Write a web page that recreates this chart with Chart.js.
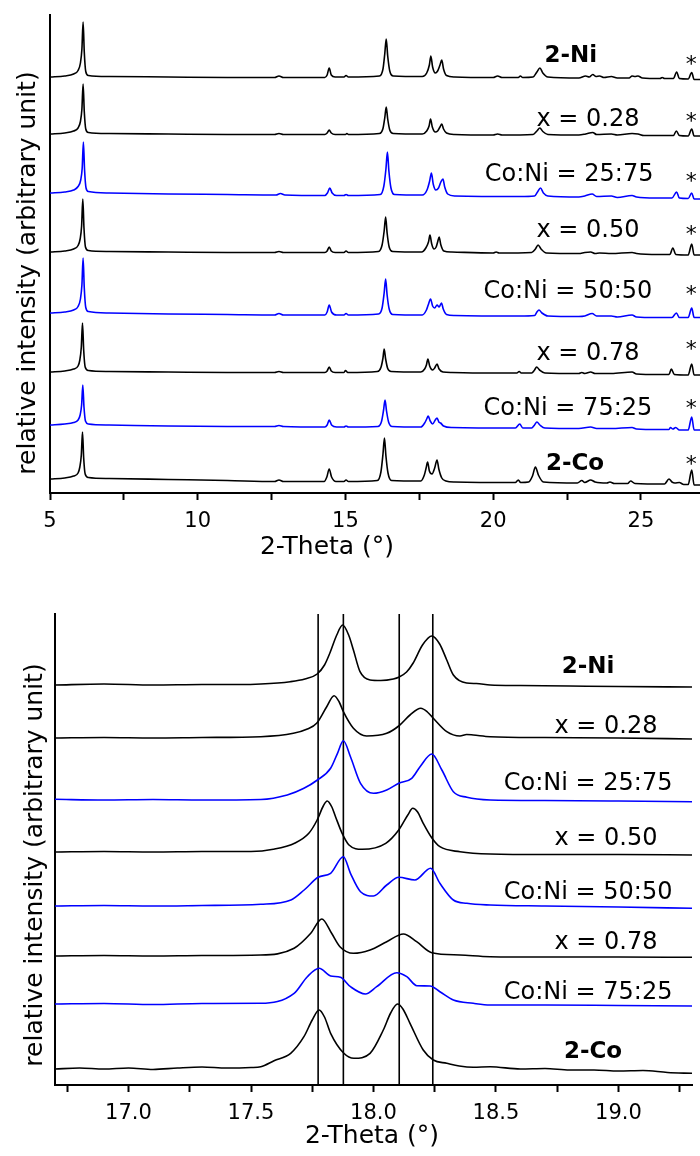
<!DOCTYPE html>
<html>
<head>
<meta charset="utf-8">
<script src="https://cdn.jsdelivr.net/npm/chart.js@4.4.0/dist/chart.umd.min.js"></script>
<style>
  html, body { margin: 0; padding: 0; background: #fff; }
  #wrap { position: relative; width: 700px; height: 1156px; }
  #topBox { position: absolute; left: 0; top: 0; width: 700px; height: 560px; }
  #botBox { position: absolute; left: 0; top: 560px; width: 700px; height: 596px; }
</style>
</head>
<body>
<div id="wrap">
  <div id="topBox"><canvas id="topChart" width="700" height="560"></canvas></div>
  <div id="botBox"><canvas id="botChart" width="700" height="596"></canvas></div>
</div>
<script>
// sample names, top to bottom
const seriesNames = ["2-Ni", "x = 0.28", "Co:Ni = 25:75", "x = 0.50", "Co:Ni = 50:50", "x = 0.78", "Co:Ni = 75:25", "2-Co"];
const seriesBold = [true, false, false, false, false, false, false, true];
const seriesBlue = [false, false, true, false, true, false, true, false];

// top panel: x ticks
const topTicks = [5, 7.5, 10, 12.5, 15, 17.5, 20, 22.5, 25];
const topLabeled = [5, 10, 15, 20, 25];

// top panel: vertical offset of each pattern (arbitrary units)
const topOffsets = [416, 359, 300, 241, 180, 121, 68, 14];

// top panel: [2-theta, intensity above own baseline]
const topNi = [[5.0,0],[5.5,1],[5.8,3],[5.95,6.5],[6.03,14],[6.08,28],[6.12,55],[6.16,25],[6.21,5.5],[6.3,1.5],[7.0,0.5],[9.0,0],[11.0,-0.5],[12.6,-0.5],[12.75,1],[12.9,-0.5],[14.3,-0.5],[14.38,2],[14.45,9],[14.52,2],[14.65,0],[14.95,0],[15.02,1.5],[15.1,0],[16.15,1],[16.27,8],[16.33,23],[16.38,38],[16.43,21],[16.5,6],[16.62,1],[17.6,0.5],[17.75,4],[17.84,12],[17.89,21],[17.95,10],[18.04,4],[18.12,6],[18.2,12],[18.26,17],[18.32,8],[18.42,1.5],[18.7,0],[20.0,-0.5],[20.15,1],[20.3,-0.5],[20.85,-0.5],[20.92,1],[21.0,-0.5],[21.35,0],[21.48,5],[21.58,9],[21.68,4],[21.85,0],[22.9,-1],[23.13,1],[23.25,0],[23.37,2.5],[23.48,0.5],[23.6,1],[23.75,-0.5],[24.0,0.5],[24.2,-1],[24.6,-1],[24.7,1],[24.8,0.5],[24.9,1],[25.05,-1],[25.65,-1.5],[25.72,-0.5],[25.8,-1.5],[26.1,-1.5],[26.21,5],[26.3,-1.5],[26.6,-2],[26.72,4.5],[26.8,-2.5],[27,-2.5]];
const topX28 = [[5.0,0],[5.5,1],[5.8,3],[5.95,6],[6.03,12.5],[6.08,25],[6.12,50],[6.16,22.5],[6.21,5],[6.3,1.5],[7.0,0.5],[9,0],[11,-0.5],[12.6,-0.5],[12.75,0.5],[12.9,-0.5],[14.3,-0.5],[14.38,1],[14.45,4],[14.52,1],[14.65,-0.5],[15.0,-0.5],[15.05,0.5],[15.1,-0.5],[16.15,0.5],[16.27,5.5],[16.33,16],[16.38,27],[16.43,15],[16.5,4],[16.62,0.5],[17.6,0],[17.75,3],[17.83,8],[17.88,15],[17.94,7],[18.04,2],[18.12,3],[18.2,7],[18.26,10],[18.32,5],[18.42,1],[18.7,-0.5],[20.0,-1],[20.15,0],[20.3,-1],[21.35,-0.5],[21.48,3],[21.58,6],[21.68,2.5],[21.85,-0.5],[22.9,-1],[23.13,0],[23.37,1.5],[23.5,-0.5],[24.0,0],[24.2,-1],[24.7,0.5],[24.9,0],[25.1,-1.5],[25.8,-1.5],[26.1,-1.5],[26.2,3],[26.3,-1.5],[26.6,-2],[26.72,5],[26.8,-2],[27,-2]];
const topB25 = [[5.0,0],[5.5,1],[5.8,3],[5.95,6.5],[6.04,13],[6.09,25],[6.13,51],[6.17,23],[6.22,5],[6.3,1.5],[7,0],[9,-1],[11,-1.5],[12.65,-2],[12.8,-0.5],[12.95,-2],[14.3,-2.5],[14.39,0],[14.47,5],[14.55,0],[14.7,-2.5],[14.95,-2.5],[15.02,-1.5],[15.1,-2.5],[16.18,-1.5],[16.3,7],[16.37,24],[16.42,41],[16.47,22],[16.54,5],[16.66,-1.5],[17.6,-2],[17.76,3],[17.85,12],[17.91,20],[17.97,9],[18.06,3],[18.15,5],[18.23,11],[18.3,14],[18.36,6],[18.46,-1],[18.7,-3],[20.9,-3.5],[21.4,-3],[21.5,1],[21.6,5],[21.7,0],[21.85,-3],[22.9,-4],[23.1,-3],[23.35,-1],[23.5,-3.5],[24.0,-3],[24.2,-4.5],[24.7,-2.5],[24.85,-4],[25.5,-5],[26.05,-5],[26.21,1],[26.3,-5],[26.6,-5.5],[26.72,0],[26.8,-6],[27,-6]];
const topX50 = [[5.0,0],[5.5,1],[5.8,3],[5.95,6.5],[6.02,13],[6.07,26],[6.11,53],[6.15,24],[6.2,5],[6.3,1.5],[7,0.5],[9,0],[11,-0.5],[12.6,-0.5],[12.75,0.5],[12.9,-0.5],[14.3,-0.5],[14.38,1],[14.45,5],[14.52,1],[14.65,-0.5],[14.95,-0.5],[15.02,1],[15.1,-0.5],[16.12,0.5],[16.24,7],[16.31,21],[16.36,35],[16.41,19],[16.48,5],[16.6,0.5],[17.58,0],[17.72,4],[17.81,10],[17.86,17],[17.92,8],[18.0,3],[18.07,5],[18.12,10],[18.17,15],[18.23,7],[18.33,1],[18.6,0],[20.0,-1],[20.1,0],[20.2,-1],[21.3,-0.5],[21.43,3],[21.52,7],[21.62,3],[21.8,-1],[22.9,-1.5],[23.1,-0.5],[23.3,0],[23.45,-1.5],[23.6,-1],[24.0,-1.5],[24.7,-0.5],[24.85,-1.5],[25.6,-2.5],[25.98,-2.5],[26.08,4],[26.18,-2.5],[26.6,-3],[26.72,8],[26.8,-3],[27,-3]];
const topB50 = [[5.0,0],[5.5,1],[5.8,3],[5.95,6.5],[6.03,14],[6.08,28],[6.12,55],[6.16,25],[6.21,5.5],[6.3,1.5],[7,0],[9,-1],[11,-1.5],[12.6,-2],[12.75,-0.5],[12.9,-2],[14.3,-2],[14.38,1],[14.45,8],[14.53,1],[14.7,-2],[14.95,-2],[15.02,-0.5],[15.1,-2],[16.12,-1],[16.24,5],[16.31,20],[16.36,34],[16.41,18],[16.48,4],[16.6,-1.5],[17.6,-2],[17.74,3],[17.8,8],[17.88,14],[17.95,7],[18.02,5],[18.1,8],[18.17,6],[18.25,10],[18.31,4],[18.42,-1.5],[18.7,-2.5],[20.9,-3],[21.4,-2.5],[21.48,1],[21.55,3],[21.65,0],[21.85,-3],[22.9,-3.5],[23.1,-3],[23.35,-0.5],[23.5,-3],[24.0,-3],[24.2,-4],[24.7,-2],[24.85,-4],[25.5,-4.5],[26.05,-4.5],[26.2,0],[26.3,-4.5],[26.6,-4.5],[26.72,5],[26.8,-4.5],[27,-4.5]];
const topX78 = [[5.0,0],[5.5,1],[5.8,3],[5.95,6],[6.01,12],[6.06,25],[6.1,49],[6.14,22],[6.19,5],[6.3,1.5],[7,0.5],[9,0],[11,-0.5],[12.6,-0.5],[12.75,0.5],[12.9,-0.5],[14.3,-0.5],[14.38,1],[14.45,5],[14.52,1],[14.65,-0.5],[14.95,-0.5],[15.0,1.5],[15.08,-0.5],[16.08,0.5],[16.2,4.5],[16.27,14],[16.31,23],[16.36,13],[16.43,3.5],[16.55,0.5],[17.55,0],[17.68,3],[17.74,7],[17.79,13],[17.85,6],[17.95,2],[18.02,4],[18.1,8],[18.17,3],[18.3,0],[18.6,-0.5],[20.0,-1],[20.8,-1],[20.88,0.5],[20.95,-1],[21.3,-1],[21.4,2],[21.47,5],[21.57,2],[21.75,-1],[22.9,-1.5],[23.0,-0.5],[23.1,-1.5],[23.3,0],[23.45,-1.5],[24.0,-1.5],[24.7,0],[24.85,-2],[25.6,-2.5],[25.95,-2.5],[26.03,3],[26.13,-2.5],[26.6,-3],[26.72,8],[26.8,-3],[27,-3]];
const topB75 = [[5.0,0],[5.5,1],[5.8,2.5],[5.95,5],[6.02,10],[6.07,20],[6.11,40],[6.15,18],[6.2,4],[6.3,1],[7,0],[9,-1],[11,-1.5],[12.6,-1.5],[12.75,-0.5],[12.9,-1.5],[14.3,-2],[14.38,0],[14.45,5],[14.53,0],[14.7,-2],[14.95,-2],[15.02,-1],[15.1,-2],[16.1,-1.5],[16.22,3.5],[16.29,15],[16.34,25],[16.39,14],[16.46,3],[16.58,-1.5],[17.55,-2],[17.68,2],[17.75,6],[17.8,9],[17.87,4],[17.95,1],[18.04,5],[18.1,7],[18.16,3],[18.22,2],[18.32,-1],[18.6,-2.5],[20.75,-3],[20.9,1],[21.0,-3],[21.3,-3],[21.4,0],[21.48,3],[21.58,0],[21.75,-3],[22.9,-3.5],[23.3,-2],[23.5,-3.5],[24.0,-3.5],[24.7,-2.5],[24.85,-4],[25.6,-4.5],[25.95,-4.5],[26.0,-2.5],[26.08,-4],[26.18,-2.5],[26.3,-5],[26.6,-5],[26.72,8],[26.8,-5],[27,-5]];
const topCo = [[5.0,0],[5.5,1],[5.8,3],[5.95,6],[6.01,12],[6.06,24],[6.1,47],[6.14,21],[6.19,5],[6.3,1.5],[7,0.5],[9,-0.5],[11,-1.5],[12.6,-2.5],[12.75,-1],[12.9,-2.5],[14.28,-2.5],[14.37,2],[14.45,10],[14.53,2],[14.68,-2.5],[14.95,-2.5],[15.02,-1],[15.1,-2.5],[16.08,-1.5],[16.2,7],[16.27,25],[16.32,41],[16.37,23],[16.44,6],[16.56,-1.5],[17.55,-2],[17.67,4],[17.73,11],[17.78,17],[17.84,8],[17.93,5],[18.02,11],[18.1,19],[18.16,10],[18.26,1],[18.4,-2],[18.7,-3],[20.75,-3.5],[20.85,-1],[20.93,-3.5],[21.2,-3],[21.33,3],[21.43,12],[21.53,4],[21.7,-3],[22.85,-4],[23.0,-1.5],[23.1,-3.5],[23.3,-1],[23.45,-3],[23.85,-4],[23.95,-3],[24.1,-4.5],[24.55,-4.5],[24.65,-2],[24.8,-4.5],[25.8,-5],[25.95,0],[26.05,-3],[26.15,-4],[26.3,-3.5],[26.45,-5.5],[26.6,-5.5],[26.72,9],[26.8,-6],[27,-6]];
const topProfiles = [topNi, topX28, topB25, topX50, topB50, topX78, topB75, topCo];

// bottom panel: x ticks and reference lines
const botTicks = [16.75, 17.0, 17.25, 17.5, 17.75, 18.0, 18.25, 18.5, 18.75, 19.0, 19.25];
const botLabeled = [17.0, 17.5, 18.0, 18.5, 19.0];
const refLines = [17.774, 17.877, 18.105, 18.242];

// bottom panel: [2-theta, stacked intensity]
const botNi = [[16.7,400],[16.9,401],[17.1,400],[17.3,400.5],[17.45,400.5],[17.54,401],[17.66,403.3],[17.72,406],[17.77,411],[17.8,420],[17.822,432],[17.85,450],[17.874,460],[17.9,449],[17.918,435],[17.945,413.3],[17.986,405],[18.03,404.5],[18.081,406],[18.103,407.7],[18.135,413],[18.162,422],[18.2,440],[18.238,449],[18.27,441],[18.299,425],[18.326,410],[18.38,402],[18.42,401.5],[18.476,400],[18.6,399.5],[18.8,399],[19.0,398.5],[19.3,398]];
const botX28 = [[16.7,347],[16.9,347.5],[17.1,347],[17.3,347.5],[17.54,348.3],[17.673,351.7],[17.73,356],[17.768,361.7],[17.809,378.3],[17.839,389.3],[17.86,383],[17.877,373.3],[17.918,356.7],[17.972,349],[18.054,351.7],[18.103,359],[18.149,370],[18.193,376.7],[18.22,373],[18.244,366.7],[18.299,353.3],[18.353,349],[18.38,350.5],[18.407,350],[18.476,348.3],[18.7,347.5],[19.0,347],[19.3,346]];
const botB25 = [[16.7,285.7],[16.9,285],[17.1,285.5],[17.3,285],[17.54,285.5],[17.648,290],[17.716,296.7],[17.771,305],[17.825,316.7],[17.853,331.7],[17.877,344.3],[17.906,328.3],[17.947,301.7],[18.0,291.7],[18.054,295],[18.103,301.7],[18.156,306.7],[18.19,318.3],[18.238,331],[18.279,315],[18.326,293.3],[18.381,287.7],[18.476,285],[18.7,284.5],[19.0,284],[19.3,283.3]];
const botX50 = [[16.7,233],[16.9,233.5],[17.1,233],[17.3,233.5],[17.5,233.5],[17.591,235.7],[17.68,242],[17.736,251.7],[17.77,265],[17.795,279],[17.811,284],[17.83,278],[17.845,268.3],[17.872,251.7],[17.9,240],[17.954,235.7],[18.05,241.7],[18.103,255],[18.14,270],[18.16,276.7],[18.18,273],[18.203,261.7],[18.239,246.7],[18.271,238.3],[18.353,233.3],[18.476,231],[18.7,230.5],[19.0,230.5],[19.3,230]];
const botB50 = [[16.7,179],[16.9,179.5],[17.1,179],[17.3,179.5],[17.54,180.7],[17.663,185],[17.717,195],[17.774,207.7],[17.825,211.7],[17.877,228.3],[17.906,211.7],[17.947,193.3],[18.0,189],[18.054,200],[18.103,207.7],[18.169,205],[18.233,216.7],[18.271,201.7],[18.326,185],[18.381,181.7],[18.476,180],[18.7,179],[19.0,178],[19.3,176.7]];
const botX78 = [[16.7,129],[16.9,129.5],[17.1,129],[17.3,129.5],[17.54,130],[17.676,136.7],[17.744,151.7],[17.789,166],[17.829,151.7],[17.863,138.3],[17.918,131.7],[17.986,135],[18.054,143.3],[18.122,151],[18.176,143.3],[18.238,132.3],[18.353,130],[18.476,128.3],[18.7,128],[19.0,128],[19.3,127.7]];
const botB75 = [[16.7,81],[16.9,81.5],[17.1,80.5],[17.3,81.5],[17.54,81.7],[17.676,91.7],[17.73,108.3],[17.778,116.7],[17.825,109],[17.865,107.7],[17.906,98.3],[17.967,91],[18.013,98.3],[18.095,112.3],[18.136,108.3],[18.177,99.3],[18.231,99],[18.271,93.3],[18.326,85],[18.407,81.7],[18.476,80],[18.7,80],[19.0,79.5],[19.3,79]];
const botCo = [[16.7,16],[16.8,17],[16.9,16],[17.0,17],[17.1,15.5],[17.2,17],[17.3,18],[17.4,17],[17.5,17.5],[17.54,18.3],[17.594,24.3],[17.662,31.7],[17.716,48.3],[17.75,65],[17.778,75],[17.8,68],[17.825,51.7],[17.879,31.7],[17.92,26.7],[17.986,31.7],[18.04,55],[18.07,72],[18.098,81],[18.12,76],[18.149,61.7],[18.203,35],[18.244,25],[18.299,21.7],[18.35,19],[18.407,17.7],[18.476,18.3],[18.6,16],[18.7,16.5],[18.8,15],[18.9,15],[19.0,14],[19.1,14.5],[19.2,12.5],[19.3,11.7]];
const botProfiles = [botNi, botX28, botB25, botX50, botB50, botX78, botB75, botCo];

const FONT = "'DejaVu Sans', sans-serif";
const BLACK = "#000000";
const BLUE = "#0000ff";
Chart.defaults.font.family = FONT;
Chart.defaults.color = BLACK;

// label anchors in data coords [2-theta, intensity]
const topLabelAt = [[22.63,439],[23.21,376],[22.57,321],[23.21,265],[22.53,204],[23.21,142],[22.53,87],[22.77,31]];
const topStarAt = [[26.7,435],[26.7,378],[26.7,318],[26.7,265],[26.7,205],[26.7,150],[26.7,91],[26.7,35]];
const botLabelAt = [[18.876,420],[18.949,361],[18.876,304],[18.949,249],[18.876,195],[18.949,145],[18.876,95],[18.896,35]];

function textPlugin(cfg) {
  return {
    id: "panelText",
    afterDraw(chart) {
      const ctx = chart.ctx;
      const xs = chart.scales.x, ys = chart.scales.y;
      ctx.save();
      ctx.fillStyle = BLACK;
      ctx.textAlign = "center";
      ctx.textBaseline = "alphabetic";
      cfg.labels.forEach((p, i) => {
        const size = seriesBold[i] ? 23 : 24;
        ctx.font = (seriesBold[i] ? "bold " : "") + size + "px " + FONT;
        ctx.fillText(seriesNames[i], xs.getPixelForValue(p[0]), ys.getPixelForValue(p[1]) + size * 0.365);
      });
      if (cfg.stars) {
        ctx.font = "22px " + FONT;
        cfg.stars.forEach(p => {
          ctx.fillText("*", xs.getPixelForValue(p[0]), ys.getPixelForValue(p[1]) + 13);
        });
      }
      // axis titles
      ctx.font = "25px " + FONT;
      ctx.fillText("2-Theta (°)", cfg.xTitle[0], cfg.xTitle[1]);
      ctx.translate(cfg.yTitle[0], cfg.yTitle[1]);
      ctx.rotate(-Math.PI / 2);
      ctx.fillText("relative intensity (arbitrary unit)", 0, 0);
      ctx.restore();
    }
  };
}

function xScale(min, max, ticks, labeled, fmt, h) {
  return {
    type: "linear", min: min, max: max,
    afterBuildTicks: s => { s.ticks = ticks.map(v => ({ value: v })); },
    afterFit: s => { s.height = h; },
    ticks: {
      autoSkip: false, maxRotation: 0, padding: 9,
      font: { size: 21 },
      callback: v => labeled.some(t => Math.abs(t - v) < 1e-6) ? fmt(v) : ""
    },
    grid: { drawOnChartArea: false, drawTicks: true, tickLength: 7, tickWidth: 2, tickColor: BLACK },
    border: { display: true, color: BLACK, width: 2 }
  };
}

function yScale(max, w) {
  return {
    type: "linear", min: 0, max: max,
    afterFit: s => { s.width = w; },
    grid: { display: false },
    ticks: { display: false },
    border: { display: true, color: BLACK, width: 2 }
  };
}

const baseOpts = {
  responsive: false,
  animation: false,
  events: [],
  plugins: { legend: { display: false }, tooltip: { enabled: false } },
  elements: { point: { radius: 0 } }
};

try {
  const topSets = topProfiles.map((prof, i) => ({
    data: prof.map(p => ({ x: p[0], y: p[1] + topOffsets[i] })),
    borderColor: seriesBlue[i] ? BLUE : BLACK,
    borderWidth: 1.6,
    cubicInterpolationMode: "monotone",
    fill: false
  }));
  new Chart(document.getElementById("topChart"), {
    type: "line",
    data: { datasets: topSets },
    options: Object.assign({}, baseOpts, {
      layout: { padding: { top: 15, left: 0, right: 0, bottom: 0 } },
      scales: {
        x: xScale(5, 27, topTicks, topLabeled, v => String(v), 67),
        y: yScale(478, 50)
      }
    }),
    plugins: [textPlugin({ labels: topLabelAt, stars: topStarAt, xTitle: [327, 554], yTitle: [35, 273] })]
  });
} catch (e) {
  console.error("top chart failed:", e);
}

try {
  const botSets = botProfiles.map((prof, i) => ({
    data: prof.map(p => ({ x: p[0], y: p[1] })),
    borderColor: seriesBlue[i] ? BLUE : BLACK,
    borderWidth: 1.6,
    cubicInterpolationMode: "monotone",
    fill: false
  }));
  refLines.forEach(v => {
    botSets.push({ data: [{ x: v, y: 0 }, { x: v, y: 471 }], borderColor: BLACK, borderWidth: 1.6, fill: false });
  });
  new Chart(document.getElementById("botChart"), {
    type: "line",
    data: { datasets: botSets },
    options: Object.assign({}, baseOpts, {
      layout: { padding: { top: 54, left: 0, right: 8, bottom: 0 } },
      scales: {
        x: xScale(16.7, 19.3, botTicks, botLabeled, v => v.toFixed(1), 71),
        y: yScale(471, 55)
      }
    }),
    plugins: [textPlugin({ labels: botLabelAt, xTitle: [372, 583], yTitle: [42, 305] })]
  });
} catch (e) {
  console.error("bottom chart failed:", e);
}
</script>
</body>
</html>
